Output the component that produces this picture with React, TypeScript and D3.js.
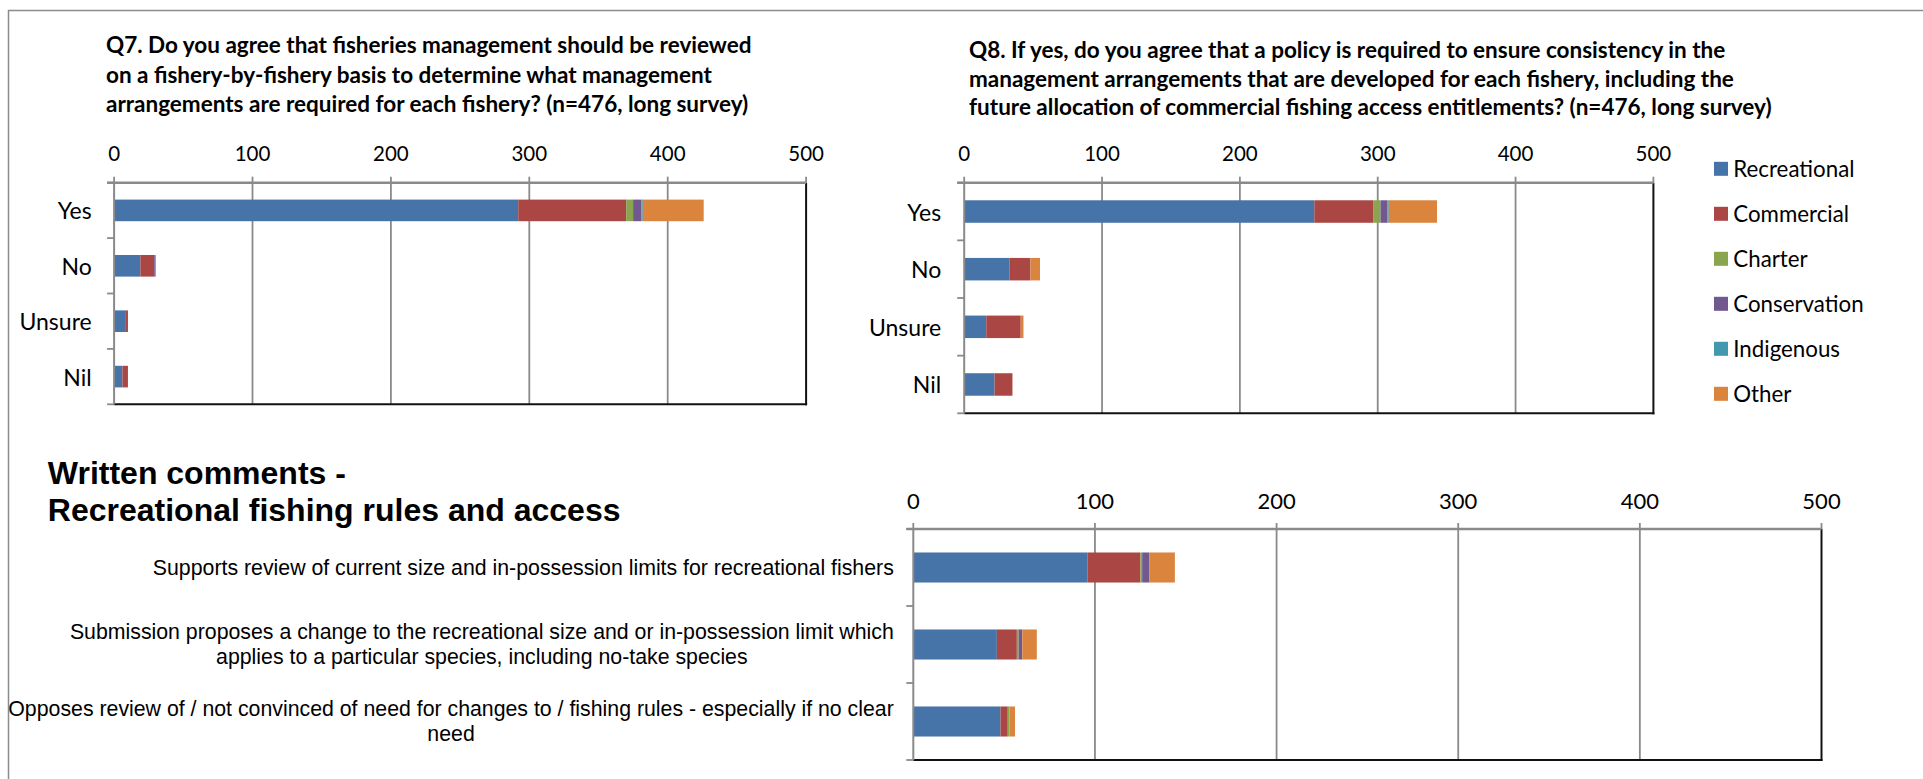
import React from "react";
import * as d3 from "d3";

// ---------- data ----------
const seriesNames = ["Recreational", "Commercial", "Charter", "Conservation", "Indigenous", "Other"];
const seriesColors = ["#4673A8", "#AA4643", "#89A54E", "#71588F", "#4198AF", "#DB843D"];
const tickValues = [0, 100, 200, 300, 400, 500];

const q7Title = [
  "Q7. Do you agree that fisheries management should be reviewed",
  "on a fishery-by-fishery basis to determine what management",
  "arrangements are required for each fishery? (n=476, long survey)",
];
const q7Categories = ["Yes", "No", "Unsure", "Nil"];
const q7Recreational = [292, 19, 8, 6];
const q7Commercial = [78, 10, 2, 4];
const q7Charter = [5, 0, 0, 0];
const q7Conservation = [6, 1, 0, 0];
const q7Indigenous = [1, 0, 0, 0];
const q7Other = [44, 0, 0, 0];

const q8Title = [
  "Q8. If yes, do you agree that a policy is required to ensure consistency in the",
  "management arrangements that are developed for each fishery, including the",
  "future allocation of commercial fishing access entitlements? (n=476, long survey)",
];
const q8Categories = ["Yes", "No", "Unsure", "Nil"];
const q8Recreational = [254, 33, 16, 22];
const q8Commercial = [43, 14, 25, 13];
const q8Charter = [5, 0, 0, 0];
const q8Conservation = [5, 1, 0, 0];
const q8Indigenous = [1, 0, 0, 0];
const q8Other = [35, 7, 2, 0];

const wcTitle = ["Written comments -", "Recreational fishing rules and access"];
const wcCategories = [
  ["Supports review of current size and in-possession limits for recreational fishers"],
  [
    "Submission proposes a change to the recreational size and or in-possession limit which",
    "applies to a particular species, including no-take species",
  ],
  [
    "Opposes review of / not convinced of need for changes to / fishing rules - especially if no clear",
    "need",
  ],
];
const wcRecreational = [96, 46, 48];
const wcCommercial = [29, 11, 4];
const wcCharter = [1, 1, 1];
const wcConservation = [4, 2, 0];
const wcIndigenous = [0, 0, 0];
const wcOther = [14, 8, 3];

// ---------- styles ----------
const CAL = "Lato, 'Open Sans', sans-serif";
const ARIAL = "'Liberation Sans', Arial, sans-serif";
const GRID = "#8a8a8a";

let measureCtx: CanvasRenderingContext2D | null = null;
function measure(text: string, font: string) {
  if (!measureCtx) measureCtx = document.createElement("canvas").getContext("2d");
  if (!measureCtx) return text.length * 9;
  measureCtx.font = font;
  return measureCtx.measureText(text).width;
}

type ChartProps = {
  categories: string[][];
  series: number[][];
  x0: number;
  x1: number;
  yTop: number;
  yBot: number;
  tickY: number;
  tickFont: string;
  tickSize: number;
  labelFont: string;
  labelSize: number;
  labelGap: number;
  lineGap: number;
};

function StackedBar(p: ChartProps) {
  const x = d3.scaleLinear().domain([0, 500]).range([p.x0, p.x1]);
  const idx = p.categories.map((_, i) => String(i));
  const y = d3.scaleBand().domain(idx).range([p.yTop, p.yBot]).paddingInner(0.61).paddingOuter(0.305);
  const step = (p.yBot - p.yTop) / p.categories.length;
  const rows = p.categories.map((_, i) => {
    const obj: any = { i: String(i) };
    p.series.forEach((s, k) => (obj["s" + k] = s[i]));
    return obj;
  });
  const stack = d3.stack().keys(p.series.map((_, k) => "s" + k))(rows);
  const labelRight = p.x0 - p.labelGap;
  return (
    <g>
      {tickValues.slice(1, -1).map((t) => (
        <line key={"g" + t} x1={x(t)} x2={x(t)} y1={p.yTop} y2={p.yBot} stroke={GRID} strokeWidth={1.8} />
      ))}
      {stack.map((layer, k) =>
        layer.map((d, i) => {
          const w = x(d[1]) - x(d[0]);
          if (w <= 0) return null;
          return (
            <rect
              key={k + "-" + i}
              x={x(d[0])}
              y={y(String(i))!}
              width={w}
              height={y.bandwidth()}
              fill={seriesColors[k]}
            />
          );
        })
      )}
      <line x1={p.x1} x2={p.x1} y1={p.yTop} y2={p.yBot + 1} stroke="#111" strokeWidth={2} />
      <line x1={p.x0} x2={p.x1 + 1} y1={p.yBot} y2={p.yBot} stroke="#111" strokeWidth={2} />
      <line x1={p.x0 - 7} x2={p.x1} y1={p.yTop} y2={p.yTop} stroke={GRID} strokeWidth={2.6} />
      {tickValues.map((t) => (
        <g key={"t" + t}>
          <line x1={x(t)} x2={x(t)} y1={p.yTop - 6} y2={p.yTop} stroke={GRID} strokeWidth={1.8} />
          <text
            x={x(t)}
            y={p.tickY}
            textAnchor="middle"
            dominantBaseline="central"
            fontFamily={p.tickFont}
            fontSize={p.tickSize}
            fill="#000"
          >
            {t}
          </text>
        </g>
      ))}
      <line x1={p.x0} x2={p.x0} y1={p.yTop} y2={p.yBot} stroke={GRID} strokeWidth={2} />
      {d3.range(p.categories.length + 1).map((j) => (
        <line
          key={"lt" + j}
          x1={p.x0 - 7}
          x2={p.x0}
          y1={p.yTop + j * step}
          y2={p.yTop + j * step}
          stroke={GRID}
          strokeWidth={1.8}
        />
      ))}
      {p.categories.map((lines, i) => {
        const cy = y(String(i))! + y.bandwidth() / 2;
        const font = `${p.labelSize}px ${p.labelFont}`;
        const widths = lines.map((l) => measure(l, font));
        const maxW = Math.max(...widths);
        const cx = labelRight - maxW / 2;
        return lines.map((l, li) => (
          <text
            key={"c" + i + "-" + li}
            x={lines.length > 1 ? cx : labelRight}
            y={cy + (li - (lines.length - 1) / 2) * p.lineGap}
            textAnchor={lines.length > 1 ? "middle" : "end"}
            dominantBaseline="central"
            fontFamily={p.labelFont}
            fontSize={p.labelSize}
            fill="#000"
          >
            {l}
          </text>
        ));
      })}
    </g>
  );
}

export default function App() {
  React.useEffect(() => {
    document.body.style.margin = "0";
  }, []);
  return (
    <svg
      width={1923}
      height={779}
      style={{ position: "absolute", left: 0, top: 0, background: "#fff" }}
      xmlns="http://www.w3.org/2000/svg"
    >
      <rect x={0} y={0} width={1923} height={779} fill="#fff" />
      <line x1={8} x2={1923} y1={10.5} y2={10.5} stroke="#8c8c8c" strokeWidth={1.5} />
      <line x1={8.5} x2={8.5} y1={10} y2={779} stroke="#8c8c8c" strokeWidth={1.5} />

      {q7Title.map((t, i) => (
        <text key={"q7t" + i} x={106} y={53 + i * 29.5} fontFamily={CAL} fontWeight="bold" fontSize={22.5} fill="#000">
          {t}
        </text>
      ))}
      <StackedBar
        categories={q7Categories.map((c) => [c])}
        series={[q7Recreational, q7Commercial, q7Charter, q7Conservation, q7Indigenous, q7Other]}
        x0={114.1}
        x1={806.1}
        yTop={182.7}
        yBot={404.3}
        tickY={153}
        tickFont={CAL}
        tickSize={20.5}
        labelFont={CAL}
        labelSize={23}
        labelGap={22.4}
        lineGap={25}
      />

      {q8Title.map((t, i) => (
        <text key={"q8t" + i} x={969} y={58.3 + i * 28.3} fontFamily={CAL} fontWeight="bold" fontSize={22.5} fill="#000">
          {t}
        </text>
      ))}
      <StackedBar
        categories={q8Categories.map((c) => [c])}
        series={[q8Recreational, q8Commercial, q8Charter, q8Conservation, q8Indigenous, q8Other]}
        x0={964.2}
        x1={1653.4}
        yTop={182.7}
        yBot={413.3}
        tickY={153}
        tickFont={CAL}
        tickSize={20.5}
        labelFont={CAL}
        labelSize={23}
        labelGap={23}
        lineGap={25}
      />

      {seriesNames.map((n, i) => (
        <g key={"lg" + i}>
          <rect x={1714} y={168.8 + i * 45 - 7} width={14} height={14} fill={seriesColors[i]} />
          <text
            x={1733.3}
            y={168.8 + i * 45}
            dominantBaseline="central"
            fontFamily={CAL}
            fontSize={22.3}
            fill="#000"
          >
            {n}
          </text>
        </g>
      ))}

      {wcTitle.map((t, i) => (
        <text key={"wct" + i} x={47.8} y={484 + i * 36.7} fontFamily={ARIAL} fontWeight="bold" fontSize={32} fill="#000">
          {t}
        </text>
      ))}
      <StackedBar
        categories={wcCategories}
        series={[wcRecreational, wcCommercial, wcCharter, wcConservation, wcIndigenous, wcOther]}
        x0={913.3}
        x1={1821.5}
        yTop={529}
        yBot={760}
        tickY={500}
        tickFont={CAL}
        tickSize={22}
        labelFont={ARIAL}
        labelSize={21.3}
        labelGap={19.5}
        lineGap={25.5}
      />
    </svg>
  );
}
